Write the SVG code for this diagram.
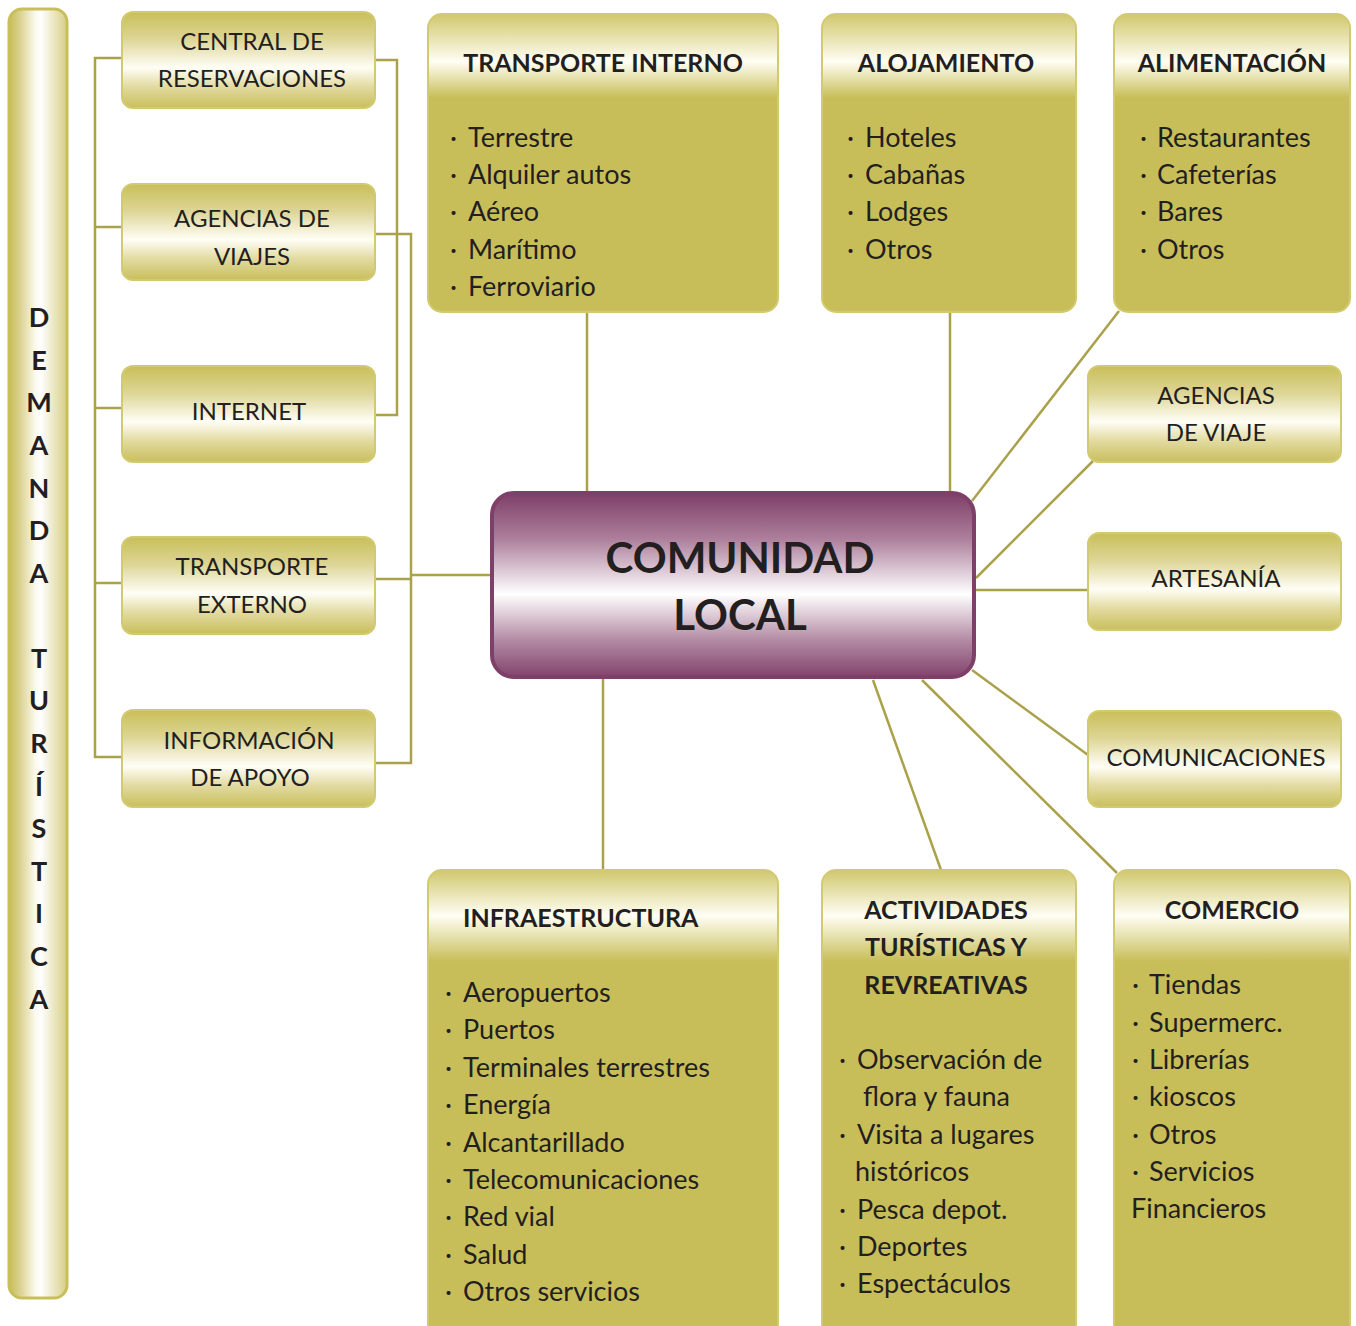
<svg xmlns="http://www.w3.org/2000/svg" width="1356" height="1326" viewBox="0 0 1356 1326">
  <style>
    .t { font-family: Lato, "DejaVu Sans", sans-serif; fill: #231f20; }
    .lbl { font-size: 24px; text-anchor: middle; }
    .ttl { font-size: 25px; font-weight: bold; text-anchor: middle; }
    .itm { font-size: 27px; }
    .vert { font-size: 27px; font-weight: bold; text-anchor: middle; }
    .big { font-size: 42px; font-weight: bold; text-anchor: middle; }
    .conn { fill: none; stroke: #aaa14b; stroke-width: 2.5; }
    .pill { fill: url(#pillGrad); stroke: #d2ca70; stroke-width: 2; }
    .card { stroke: #d2ca70; stroke-width: 2; }
  </style>
  <defs>
    <linearGradient id="pillGrad" x1="0" y1="0" x2="0" y2="1">
      <stop offset="0" stop-color="#c9bf59"/>
      <stop offset="0.28" stop-color="#ddd595"/>
      <stop offset="0.58" stop-color="#fffef6"/>
      <stop offset="0.78" stop-color="#e2daa0"/>
      <stop offset="1" stop-color="#c9bf5b"/>
    </linearGradient>
    <linearGradient id="topCardGrad" x1="0" y1="0" x2="0" y2="1">
      <stop offset="0" stop-color="#d0c76c"/>
      <stop offset="0.16" stop-color="#fffef4"/>
      <stop offset="0.28" stop-color="#c8be59"/>
      <stop offset="1" stop-color="#c8be59"/>
    </linearGradient>
    <linearGradient id="botCardGrad" x1="0" y1="0" x2="0" y2="1">
      <stop offset="0" stop-color="#d0c76c"/>
      <stop offset="0.095" stop-color="#fffef4"/>
      <stop offset="0.19" stop-color="#c8be59"/>
      <stop offset="1" stop-color="#c8be59"/>
    </linearGradient>
    <linearGradient id="hubGrad" x1="0" y1="0" x2="0" y2="1">
      <stop offset="0" stop-color="#7e3f68"/>
      <stop offset="0.25" stop-color="#ad7f9c"/>
      <stop offset="0.55" stop-color="#ffffff"/>
      <stop offset="0.8" stop-color="#b38aa4"/>
      <stop offset="1" stop-color="#82436c"/>
    </linearGradient>
    <linearGradient id="barGrad" x1="0" y1="0" x2="1" y2="0">
      <stop offset="0" stop-color="#c8bd55"/>
      <stop offset="0.18" stop-color="#d9d08c"/>
      <stop offset="0.45" stop-color="#fbf9ec"/>
      <stop offset="0.55" stop-color="#ffffff"/>
      <stop offset="0.8" stop-color="#e9e3bb"/>
      <stop offset="1" stop-color="#d6ce86"/>
    </linearGradient>
  </defs>

  <!-- connectors -->
  <g id="connectors">
    <!-- left rail tying the demand boxes -->
    <path class="conn" d="M122 58 H95 V757 H122 M95 227 H122 M95 408 H122 M95 583 H122"/>
    <!-- right brackets -->
    <path class="conn" d="M375 60 H397 V415 H375"/>
    <path class="conn" d="M375 234 H411 V763 H375 M375 579 H411 M411 575 H491"/>
    <!-- hub spokes -->
    <path class="conn" d="M587 312 V492"/>
    <path class="conn" d="M950 312 V493"/>
    <path class="conn" d="M1119 311 L972 501"/>
    <path class="conn" d="M1093 461 L976 578"/>
    <path class="conn" d="M975 590 H1088"/>
    <path class="conn" d="M972 670 L1088 755"/>
    <path class="conn" d="M922 680 L1117 873"/>
    <path class="conn" d="M873 680 L941 870"/>
    <path class="conn" d="M603 678 V870"/>
  </g>

  <!-- vertical title bar -->
  <g id="demanda-turistica">
    <rect x="9" y="9" width="58" height="1289" rx="13" fill="url(#barGrad)" stroke="#c9bf5a" stroke-width="3"/>
    <g class="t vert">
      <text x="39" y="327">D</text>
      <text x="39" y="370">E</text>
      <text x="39" y="412">M</text>
      <text x="39" y="455">A</text>
      <text x="39" y="498">N</text>
      <text x="39" y="540">D</text>
      <text x="39" y="583">A</text>
      <text x="39" y="668">T</text>
      <text x="39" y="710">U</text>
      <text x="39" y="753">R</text>
      <text x="39" y="796">Í</text>
      <text x="39" y="838">S</text>
      <text x="39" y="881">T</text>
      <text x="39" y="923">I</text>
      <text x="39" y="966">C</text>
      <text x="39" y="1009">A</text>
    </g>
  </g>

  <!-- demand side boxes -->
  <g id="central-reservaciones">
    <rect class="pill" x="122" y="12" width="253" height="96" rx="11"/>
    <text class="t lbl" x="252" y="50">CENTRAL DE</text>
    <text class="t lbl" x="252" y="87">RESERVACIONES</text>
  </g>
  <g id="agencias-viajes">
    <rect class="pill" x="122" y="184" width="253" height="96" rx="11"/>
    <text class="t lbl" x="252" y="227">AGENCIAS DE</text>
    <text class="t lbl" x="252" y="265">VIAJES</text>
  </g>
  <g id="internet">
    <rect class="pill" x="122" y="366" width="253" height="96" rx="11"/>
    <text class="t lbl" x="249" y="420">INTERNET</text>
  </g>
  <g id="transporte-externo">
    <rect class="pill" x="122" y="537" width="253" height="97" rx="11"/>
    <text class="t lbl" x="252" y="575">TRANSPORTE</text>
    <text class="t lbl" x="252" y="613">EXTERNO</text>
  </g>
  <g id="informacion-apoyo">
    <rect class="pill" x="122" y="710" width="253" height="97" rx="11"/>
    <text class="t lbl" x="249" y="749">INFORMACIÓN</text>
    <text class="t lbl" x="250" y="786">DE APOYO</text>
  </g>

  <!-- top category cards -->
  <g id="transporte-interno">
    <rect class="card" x="428" y="14" width="350" height="298" rx="14" fill="url(#topCardGrad)"/>
    <text class="t ttl" x="603" y="72">TRANSPORTE INTERNO</text>
    <g class="t itm">
      <text y="147"><tspan x="450">·</tspan><tspan x="468">Terrestre</tspan></text>
      <text y="184"><tspan x="450">·</tspan><tspan x="468">Alquiler autos</tspan></text>
      <text y="221"><tspan x="450">·</tspan><tspan x="468">Aéreo</tspan></text>
      <text y="259"><tspan x="450">·</tspan><tspan x="468">Marítimo</tspan></text>
      <text y="296"><tspan x="450">·</tspan><tspan x="468">Ferroviario</tspan></text>
    </g>
  </g>
  <g id="alojamiento">
    <rect class="card" x="822" y="14" width="254" height="298" rx="14" fill="url(#topCardGrad)"/>
    <text class="t ttl" x="946" y="72">ALOJAMIENTO</text>
    <g class="t itm">
      <text y="147"><tspan x="847">·</tspan><tspan x="865">Hoteles</tspan></text>
      <text y="184"><tspan x="847">·</tspan><tspan x="865">Cabañas</tspan></text>
      <text y="221"><tspan x="847">·</tspan><tspan x="865">Lodges</tspan></text>
      <text y="259"><tspan x="847">·</tspan><tspan x="865">Otros</tspan></text>
    </g>
  </g>
  <g id="alimentacion">
    <rect class="card" x="1114" y="14" width="236" height="298" rx="14" fill="url(#topCardGrad)"/>
    <text class="t ttl" x="1232" y="72">ALIMENTACIÓN</text>
    <g class="t itm">
      <text y="147"><tspan x="1140">·</tspan><tspan x="1157">Restaurantes</tspan></text>
      <text y="184"><tspan x="1140">·</tspan><tspan x="1157">Cafeterías</tspan></text>
      <text y="221"><tspan x="1140">·</tspan><tspan x="1157">Bares</tspan></text>
      <text y="259"><tspan x="1140">·</tspan><tspan x="1157">Otros</tspan></text>
    </g>
  </g>

  <!-- central hub -->
  <g id="comunidad-local">
    <rect x="492" y="493" width="482" height="184" rx="22" fill="url(#hubGrad)" stroke="#7e3f68" stroke-width="4"/>
    <text class="t big" x="740" y="573">COMUNIDAD</text>
    <text class="t big" x="740" y="630">LOCAL</text>
  </g>

  <!-- right side boxes -->
  <g id="agencias-viaje">
    <rect class="pill" x="1088" y="366" width="253" height="96" rx="11"/>
    <text class="t lbl" x="1216" y="404">AGENCIAS</text>
    <text class="t lbl" x="1216" y="441">DE VIAJE</text>
  </g>
  <g id="artesania">
    <rect class="pill" x="1088" y="533" width="253" height="97" rx="11"/>
    <text class="t lbl" x="1216" y="587">ARTESANÍA</text>
  </g>
  <g id="comunicaciones">
    <rect class="pill" x="1088" y="711" width="253" height="96" rx="11"/>
    <text class="t lbl" x="1216" y="766">COMUNICACIONES</text>
  </g>

  <!-- bottom category cards -->
  <g id="infraestructura">
    <rect class="card" x="428" y="870" width="350" height="480" rx="14" fill="url(#botCardGrad)"/>
    <text class="t ttl" x="463" y="927" style="text-anchor:start">INFRAESTRUCTURA</text>
    <g class="t itm">
      <text y="1002"><tspan x="445">·</tspan><tspan x="463">Aeropuertos</tspan></text>
      <text y="1039"><tspan x="445">·</tspan><tspan x="463">Puertos</tspan></text>
      <text y="1077"><tspan x="445">·</tspan><tspan x="463">Terminales terrestres</tspan></text>
      <text y="1114"><tspan x="445">·</tspan><tspan x="463">Energía</tspan></text>
      <text y="1152"><tspan x="445">·</tspan><tspan x="463">Alcantarillado</tspan></text>
      <text y="1189"><tspan x="445">·</tspan><tspan x="463">Telecomunicaciones</tspan></text>
      <text y="1226"><tspan x="445">·</tspan><tspan x="463">Red vial</tspan></text>
      <text y="1264"><tspan x="445">·</tspan><tspan x="463">Salud</tspan></text>
      <text y="1301"><tspan x="445">·</tspan><tspan x="463">Otros servicios</tspan></text>
    </g>
  </g>
  <g id="actividades-turisticas">
    <rect class="card" x="822" y="870" width="254" height="480" rx="14" fill="url(#botCardGrad)"/>
    <text class="t ttl" x="946" y="919">ACTIVIDADES</text>
    <text class="t ttl" x="946" y="956">TURÍSTICAS Y</text>
    <text class="t ttl" x="946" y="994">REVREATIVAS</text>
    <g class="t itm">
      <text y="1069"><tspan x="839">·</tspan><tspan x="857">Observación de</tspan></text>
      <text x="863" y="1106">flora y fauna</text>
      <text y="1144"><tspan x="839">·</tspan><tspan x="857">Visita a lugares</tspan></text>
      <text x="855" y="1181">históricos</text>
      <text y="1219"><tspan x="839">·</tspan><tspan x="857">Pesca depot.</tspan></text>
      <text y="1256"><tspan x="839">·</tspan><tspan x="857">Deportes</tspan></text>
      <text y="1293"><tspan x="839">·</tspan><tspan x="857">Espectáculos</tspan></text>
    </g>
  </g>
  <g id="comercio">
    <rect class="card" x="1114" y="870" width="236" height="480" rx="14" fill="url(#botCardGrad)"/>
    <text class="t ttl" x="1232" y="919">COMERCIO</text>
    <g class="t itm">
      <text y="994"><tspan x="1132">·</tspan><tspan x="1149">Tiendas</tspan></text>
      <text y="1032"><tspan x="1132">·</tspan><tspan x="1149">Supermerc.</tspan></text>
      <text y="1069"><tspan x="1132">·</tspan><tspan x="1149">Librerías</tspan></text>
      <text y="1106"><tspan x="1132">·</tspan><tspan x="1149">kioscos</tspan></text>
      <text y="1144"><tspan x="1132">·</tspan><tspan x="1149">Otros</tspan></text>
      <text y="1181"><tspan x="1132">·</tspan><tspan x="1149">Servicios</tspan></text>
      <text x="1131" y="1218">Financieros</text>
    </g>
  </g>
</svg>
